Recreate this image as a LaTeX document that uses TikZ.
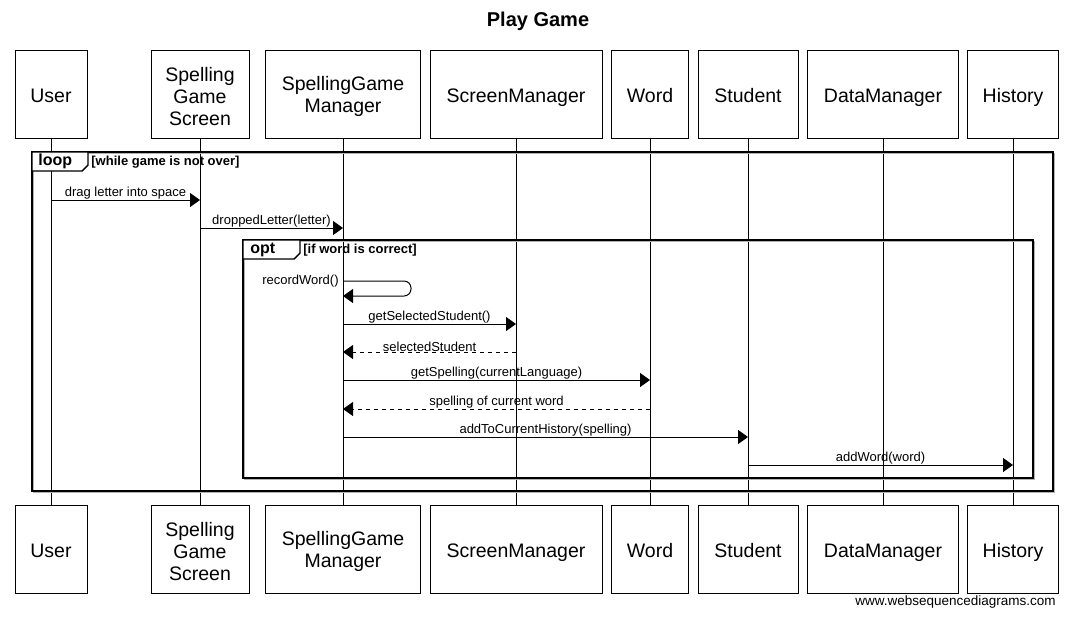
\documentclass[tikz,border=0pt]{standalone}
\usepackage{fontspec}
\setmainfont{Liberation Sans}
\usetikzlibrary{arrows.meta}

\begin{document}
\begin{tikzpicture}[x=0.5pt,y=-0.5pt,>={Triangle[length=5pt,width=7pt]}]
	\useasboundingbox (0,0) rectangle (1074,618);
	
	\tikzstyle{actor}=[draw,line width=0.5pt,minimum height=44pt,inner sep=0pt,align=center,font=\fontsize{9.75}{11}\selectfont]
	\tikzstyle{single}=[actor,text height=9pt,text depth=1pt]
	
	\tikzstyle{msg}=[line width=0.5pt,->]
	\tikzstyle{reply}=[msg,dash pattern=on 2pt off 2pt]
	\tikzstyle{txt}=[font=\fontsize{6.5}{7.5}\selectfont,inner sep=0pt]
	\tikzstyle{frame}=[line width=1pt]
	\tikzstyle{shade}=[line width=0.6pt,black!30]
	\tikzstyle{tab}=[line width=0.7pt,fill=white]
	\tikzstyle{tabtxt}=[font=\bfseries\fontsize{8}{9}\selectfont,inner sep=0pt,anchor=west]
	\tikzstyle{cond}=[font=\bfseries\fontsize{6.5}{7.5}\selectfont,inner sep=0pt,anchor=west]
	
	\node[font=\bfseries\fontsize{10}{12}\selectfont](title) at (538,21){Play Game};
	
	% participants, top row
	\node[single,minimum width=36pt](userT) at (51,94){User};
	\node[actor,minimum width=49pt](screenT) at (200,94){\rule{0pt}{9.8pt}Spelling\\Game\\Screen};
	\node[actor,minimum width=77.5pt](managerT) at (343,94){\rule{0pt}{9.8pt}SpellingGame\\Manager};
	\node[single,minimum width=86pt](scrManT) at (516,94){ScreenManager};
	\node[single,minimum width=38.5pt](wordT) at (650,94){Word};
	\node[single,minimum width=50pt](studentT) at (748,94){Student};
	\node[single,minimum width=75.5pt](dataT) at (883,94){DataManager};
	\node[single,minimum width=45.5pt](historyT) at (1013,94){History};
	
	% participants, bottom row
	\node[single,minimum width=36pt](userB) at (51,549){User};
	\node[actor,minimum width=49pt](screenB) at (200,549){\rule{0pt}{9.8pt}Spelling\\Game\\Screen};
	\node[actor,minimum width=77.5pt](managerB) at (343,549){\rule{0pt}{9.8pt}SpellingGame\\Manager};
	\node[single,minimum width=86pt](scrManB) at (516,549){ScreenManager};
	\node[single,minimum width=38.5pt](wordB) at (650,549){Word};
	\node[single,minimum width=50pt](studentB) at (748,549){Student};
	\node[single,minimum width=75.5pt](dataB) at (883,549){DataManager};
	\node[single,minimum width=45.5pt](historyB) at (1013,549){History};
	
	\draw[line width=0.5pt] (userT) -- (userB);
	\draw[line width=0.5pt] (screenT) -- (screenB);
	\draw[line width=0.5pt] (managerT) -- (managerB);
	\draw[line width=0.5pt] (scrManT) -- (scrManB);
	\draw[line width=0.5pt] (wordT) -- (wordB);
	\draw[line width=0.5pt] (studentT) -- (studentB);
	\draw[line width=0.5pt] (dataT) -- (dataB);
	\draw[line width=0.5pt] (historyT) -- (historyB);
	
	% loop frame
	\draw[shade] (33.5,153.5) rectangle (1054.5,492.5);
	\draw[frame] (32,152) rectangle (1053,491);
	\draw[tab] (32,152) -- (88,152) -- (88,165) -- (82,171) -- (32,171) -- cycle;
	\node[tabtxt](loopTxt) at (38,161.5){loop};
	\node[cond](loopCond) at (91,162){[while game is not over]};
	
	% opt frame
	\draw[shade] (244.5,241.5) rectangle (1034.5,479.5);
	\draw[frame] (243,240) rectangle (1033,478);
	\draw[tab] (243,240) -- (300,240) -- (300,253) -- (294,259) -- (243,259) -- cycle;
	\node[tabtxt](optTxt) at (250,250){opt};
	\node[cond](optCond) at (303,250){[if word is correct]};
	
	\coordinate(dragA) at (51,200);
	\coordinate(dragB) at (200,200);
	\coordinate(dropA) at (200,228);
	\coordinate(dropB) at (343,228);
	\coordinate(recA) at (343,281);
	\coordinate(recR1) at (411,281);
	\coordinate(recR2) at (411,296);
	\coordinate(recB) at (343,296);
	\coordinate(getSelA) at (343,324);
	\coordinate(getSelB) at (516,324);
	\coordinate(selA) at (516,352);
	\coordinate(selB) at (343,352);
	\coordinate(getSpA) at (343,380);
	\coordinate(getSpB) at (650,380);
	\coordinate(spA) at (650,409);
	\coordinate(spB) at (343,409);
	\coordinate(addHA) at (343,437);
	\coordinate(addHB) at (748,437);
	\coordinate(addWA) at (748,465);
	\coordinate(addWB) at (1013,465);
	
	\draw[msg] (dragA) -- (dragB) node[midway,above=0.1pt,txt]{drag letter into space};
	\draw[msg] (dropA) -- (dropB) node[midway,above=0.1pt,txt]{droppedLetter(letter)};
	\draw[msg,rounded corners=3.5pt] (recA) -- (recR1) -- (recR2) -- (recB);
	\node[txt,anchor=east](recTxt) at (339,281.5){recordWord()};
	\draw[msg] (getSelA) -- (getSelB) node[midway,above=0.1pt,txt]{getSelectedStudent()};
	\draw[reply] (selA) -- (selB) node[midway,above=0.1pt,txt]{selectedStudent};
	\draw[msg] (getSpA) -- (getSpB) node[midway,above=0.1pt,txt]{getSpelling(currentLanguage)};
	\draw[reply] (spA) -- (spB) node[midway,above=0.1pt,txt]{spelling of current word};
	\draw[msg] (addHA) -- (addHB) node[midway,above=0.1pt,txt]{addToCurrentHistory(spelling)};
	\draw[msg] (addWA) -- (addWB) node[midway,above=0.1pt,txt]{addWord(word)};
	
	\node[font=\fontsize{6.75}{8}\selectfont,inner sep=0pt,anchor=east](site) at (1056,602){www.websequencediagrams.com};
	
\end{tikzpicture}
\end{document}
